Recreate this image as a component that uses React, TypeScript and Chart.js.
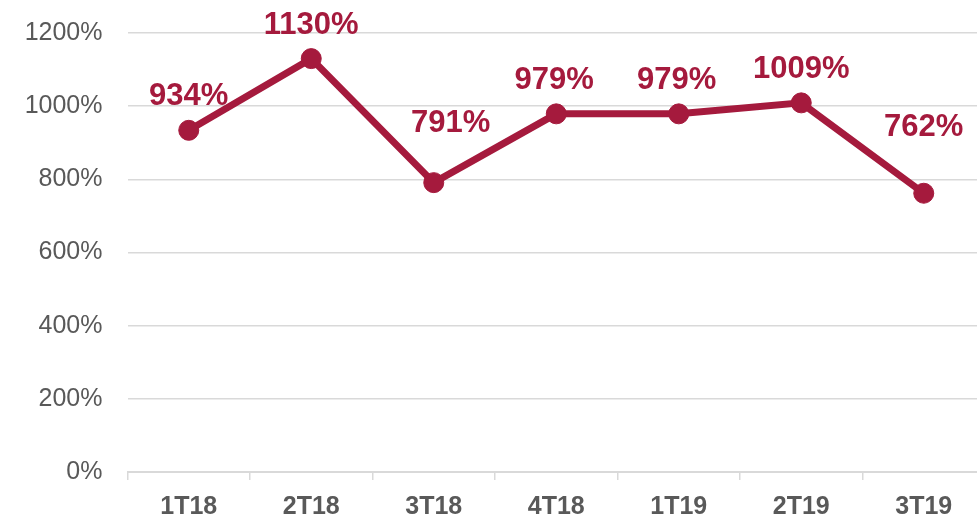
import { useEffect, useRef } from "react";
import { Chart, registerables } from "chart.js";

Chart.register(...registerables);

const categories = ["1T18", "2T18", "3T18", "4T18", "1T19", "2T19", "3T19"];
const values = [934, 1130, 791, 979, 979, 1009, 762];
const yMin = 0;
const yMax = 1200;
const yStep = 200;

const RED = "#A51A3D";
const GRAY_TEXT = "#595959";
const GRID = "#D9D9D9";
const FONT = "'Liberation Sans', Arial, sans-serif";

// label offsets [dx, dy] relative to each point
const labelOffsets: [number, number][] = [
  [0, 36],
  [0, 36],
  [17, 62],
  [-2, 36],
  [-2, 36],
  [0, 36],
  [0, 68],
];

const valueLabels = {
  id: "valueLabels",
  afterDatasetsDraw(chart: any) {
    const ctx = chart.ctx;
    const meta = chart.getDatasetMeta(0);
    ctx.save();
    ctx.font = `bold 31px ${FONT}`;
    ctx.fillStyle = RED;
    ctx.textAlign = "center";
    ctx.textBaseline = "alphabetic";
    meta.data.forEach((pt: any, i: number) => {
      const [dx, dy] = labelOffsets[i];
      ctx.fillText(values[i] + "%", pt.x + dx, pt.y - dy + 11);
    });
    ctx.restore();
  },
};

export default function App() {
  const ref = useRef<HTMLCanvasElement | null>(null);

  useEffect(() => {
    if (!ref.current) return;
    const chart = new Chart(ref.current, {
      type: "line",
      data: {
        labels: categories,
        datasets: [
          {
            data: values,
            borderColor: RED,
            backgroundColor: RED,
            borderWidth: 7,
            pointRadius: 10,
            pointBorderWidth: 1,
            pointBackgroundColor: RED,
            pointBorderColor: RED,
            tension: 0,
            clip: false as any,
          },
        ],
      },
      options: {
        animation: false,
        responsive: false,
        maintainAspectRatio: false,
        layout: { autoPadding: false, padding: { top: 33, right: 1, left: 0, bottom: 0 } },
        plugins: {
          legend: { display: false },
          tooltip: { enabled: false },
        },
        scales: {
          x: {
            type: "category",
            offset: true,
            grid: {
              display: true,
              drawOnChartArea: false,
              drawTicks: true,
              tickLength: 8,
              offset: true,
              color: GRID,
              lineWidth: 1.5,
            },
            border: { display: true, color: GRID, width: 2 },
            ticks: {
              color: GRAY_TEXT,
              font: { family: FONT, size: 25, weight: "bold" },
              padding: 12,
              maxRotation: 0,
            },
            afterFit(scale: any) {
              scale.height = 48;
              scale.paddingLeft = 0;
              scale.paddingRight = 0;
            },
          },
          y: {
            min: yMin,
            max: yMax,
            ticks: {
              stepSize: yStep,
              color: GRAY_TEXT,
              font: { family: FONT, size: 25 },
              padding: 25,
              callback: (v: any) => v + "%",
            },
            grid: {
              color: GRID,
              lineWidth: 1.5,
              drawTicks: false,
            },
            border: { display: false },
            afterFit(scale: any) {
              scale.width = 127.5;
              scale.paddingTop = 0;
              scale.paddingBottom = 0;
            },
          },
        },
      },
      plugins: [valueLabels],
    });
    return () => chart.destroy();
  }, []);

  return (
    <div
      style={{
        position: "fixed",
        left: 0,
        top: 0,
        width: 977,
        height: 520,
        overflow: "hidden",
        background: "#fff",
      }}
    >
      <canvas ref={ref} width={986} height={520} style={{ display: "block" }} />
    </div>
  );
}
